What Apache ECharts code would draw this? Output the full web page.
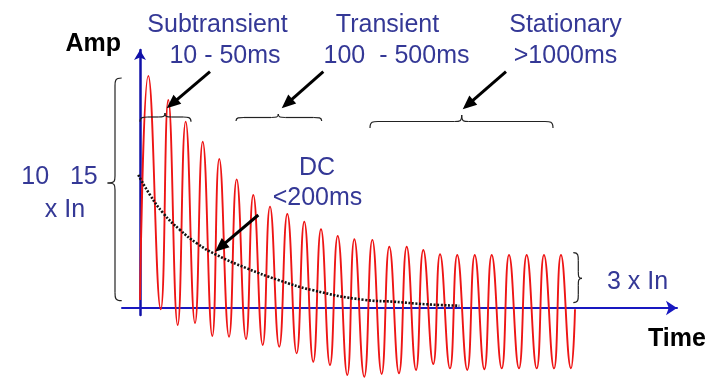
<!DOCTYPE html>
<html><head><meta charset="utf-8">
<script src="https://cdn.jsdelivr.net/npm/echarts@6/dist/echarts.min.js"></script>
<style>html,body{margin:0;padding:0;background:#fff}#c{width:720px;height:381px}</style>
</head><body><div id="c"></div>
<script>
// Time in ms, amplitude in multiples of In
const peakTimes = [9.7, 33.0, 53.3, 73.2, 92.5, 112.8, 132.2, 151.7, 171.9, 191.7, 211.2, 230.7, 250.1, 271.1, 290.9, 311.2, 330.6, 350.1, 370.2, 390.6, 410.4, 430.6, 451.2, 471.4, 491.2];
const peakValues = [13.26, 11.89, 10.65, 9.50, 8.51, 7.35, 6.46, 5.79, 5.37, 4.93, 4.50, 4.11, 3.93, 3.89, 3.50, 3.50, 3.31, 3.07, 3.03, 3.03, 3.03, 3.03, 3.03, 3.03, 3.03];
const troughTimes = [24.2, 44.0, 64.2, 84.4, 103.9, 123.7, 143.2, 162.5, 182.8, 202.2, 221.7, 241.9, 261.7, 282.0, 302.2, 322.1, 342.2, 361.7, 381.9, 401.8, 422.1, 442.2, 462.9, 483.1, 502.9];
const troughValues = [-0.07, -0.97, -0.86, -1.60, -1.64, -1.77, -2.11, -2.21, -2.59, -3.07, -3.26, -3.83, -3.93, -3.77, -3.73, -3.54, -3.20, -3.45, -3.54, -3.50, -3.45, -3.45, -3.45, -3.45, -3.45];
const waveStart = [0, 0.46];
const waveEnd = [507.6, -0.07];
const dcTimes = [-2, 11.7, 27.2, 46.7, 66.2, 89.5, 124.5, 161.4, 200.4, 262.5, 295.6, 334.5, 372.6];
const dcValues = [7.6, 6.46, 5.41, 4.46, 3.70, 3.03, 2.27, 1.60, 1.03, 0.46, 0.36, 0.21, 0.13];

const wave = [waveStart];
const ext = [];
peakTimes.forEach((t, i) => ext.push([t, peakValues[i]]));
troughTimes.forEach((t, i) => ext.push([t, troughValues[i]]));
ext.sort((a, b) => a[0] - b[0]);
ext.forEach(p => wave.push(p));
wave.push(waveEnd);
const dc = dcTimes.map((t, i) => [t, dcValues[i]]);

const FONT = '"Liberation Sans", Arial, sans-serif';
const TXT = '#343896';
const BR = { fill: null, stroke: '#222', lineWidth: 1.2 };
function label(text, x, y, align) {
  return { type: 'text', x: x, y: y, z: 100,
    style: { text: text, fill: TXT, font: '25px ' + FONT, textAlign: align || 'center', textVerticalAlign: 'middle' } };
}
function bz(a, c1, c2, b) {
  return { type: 'bezierCurve', z: 90, shape: { x1: a[0], y1: a[1], cpx1: c1[0], cpy1: c1[1], cpx2: c2[0], cpy2: c2[1], x2: b[0], y2: b[1] }, style: BR };
}
function ln(a, b) {
  return { type: 'line', z: 90, shape: { x1: a[0], y1: a[1], x2: b[0], y2: b[1] }, style: BR };
}
function hBrace(x1, x2, yEnd, yMid, xt, yt) {
  return [
    bz([x1, yEnd], [x1, yMid], [x1 + 3, yMid], [x1 + 8, yMid]),
    ln([x1 + 8, yMid], [xt - 7, yMid]),
    bz([xt - 7, yMid], [xt - 2, yMid], [xt, yMid], [xt, yt]),
    bz([xt, yt], [xt, yMid], [xt + 2, yMid], [xt + 7, yMid]),
    ln([xt + 7, yMid], [x2 - 8, yMid]),
    bz([x2 - 8, yMid], [x2 - 3, yMid], [x2, yMid], [x2, yEnd])
  ];
}
function vBrace(y1, y2, xEnd, xMid, xt, yt) {
  return [
    bz([xEnd, y1], [xMid, y1], [xMid, y1 + 3], [xMid, y1 + 8]),
    ln([xMid, y1 + 8], [xMid, yt - 7]),
    bz([xMid, yt - 7], [xMid, yt - 2], [xMid, yt], [xt, yt]),
    bz([xt, yt], [xMid, yt], [xMid, yt + 2], [xMid, yt + 7]),
    ln([xMid, yt + 7], [xMid, y2 - 8]),
    bz([xMid, y2 - 8], [xMid, y2 - 3], [xMid, y2], [xEnd, y2])
  ];
}
function arrow(x0, y0, x1, y1) {
  const L = 14, W = 12;
  const dx = x1 - x0, dy = y1 - y0, d = Math.hypot(dx, dy);
  const ux = dx / d, uy = dy / d;
  const bx = x1 - ux * L, by = y1 - uy * L;
  const px = -uy * W / 2, py = ux * W / 2;
  return [
    { type: 'line', z: 95, shape: { x1: x0, y1: y0, x2: bx + ux * 2, y2: by + uy * 2 }, style: { stroke: '#000', lineWidth: 3 } },
    { type: 'polygon', z: 95, shape: { points: [[x1, y1], [bx + px, by + py], [bx - px, by - py]] }, style: { fill: '#000' } }
  ];
}

const chart = echarts.init(document.getElementById('c'), null, { renderer: 'canvas' });
chart.setOption({
  animation: false,
  backgroundColor: '#fff',
  grid: { left: 122, right: 43, top: 50, bottom: 66, containLabel: false },
  xAxis: {
    type: 'value', min: -21, max: 626.6,
    axisLine: { onZero: true, symbol: ['none', 'arrow'], symbolSize: [11, 11], lineStyle: { color: '#1818c0', width: 2 } },
    axisTick: { show: false }, axisLabel: { show: false }, splitLine: { show: false }
  },
  yAxis: {
    type: 'value', min: -0.4, max: 14.74,
    name: 'Amp', nameLocation: 'end', nameGap: 6,
    nameTextStyle: { color: '#000', fontWeight: 'bold', fontSize: 25, fontFamily: FONT, align: 'right', verticalAlign: 'middle', padding: [0, 19, 0, 0] },
    axisLine: { onZero: true, symbol: ['none', 'arrow'], symbolSize: [9, 10], lineStyle: { color: '#1010a8', width: 2.5 } },
    axisTick: { show: false }, axisLabel: { show: false }, splitLine: { show: false }
  },
  series: [
    { type: 'line', data: wave, smooth: 0.5, symbol: 'none', clip: false, z: 3,
      lineStyle: { color: '#ee1515', width: 1.9 } },
    { type: 'line', data: dc, smooth: true, symbol: 'none', clip: false, z: 4,
      lineStyle: { color: '#111', width: 2.6, type: [2, 1.6] } }
  ],
  graphic: [
    label('Subtransient', 217.5, 25),
    label('10 - 50ms', 225, 56),
    label('Transient', 387.5, 25),
    label('100  - 500ms', 396.5, 56),
    label('Stationary', 565.5, 25),
    label('>1000ms', 565.5, 56),
    label('DC', 317, 168),
    label('<200ms', 317.5, 198),
    label('10   15', 59.5, 177),
    label('x In', 65, 210),
    label('3 x In', 607, 282, 'left'),
    { type: 'text', x: 648, y: 339, z: 100,
      style: { text: 'Time', fill: '#000', font: 'bold 25px ' + FONT, textAlign: 'left', textVerticalAlign: 'middle' } },
    ...hBrace(140, 191, 121.7, 117, 165, 113),
    ...hBrace(236, 321.7, 121, 117.5, 278.3, 114),
    ...hBrace(370, 553, 128, 121.5, 461.7, 115),
    ...vBrace(78, 300.7, 121.7, 115, 107.5, 183),
    ...vBrace(252.7, 302.7, 573.3, 578.3, 582, 278.3),
    ...arrow(210, 71.7, 166.7, 108.3),
    ...arrow(323.3, 71.7, 281.7, 108.3),
    ...arrow(506, 71.7, 462.7, 109.3),
    ...arrow(258.3, 215, 215, 251.7)
  ]
});
</script></body></html>
